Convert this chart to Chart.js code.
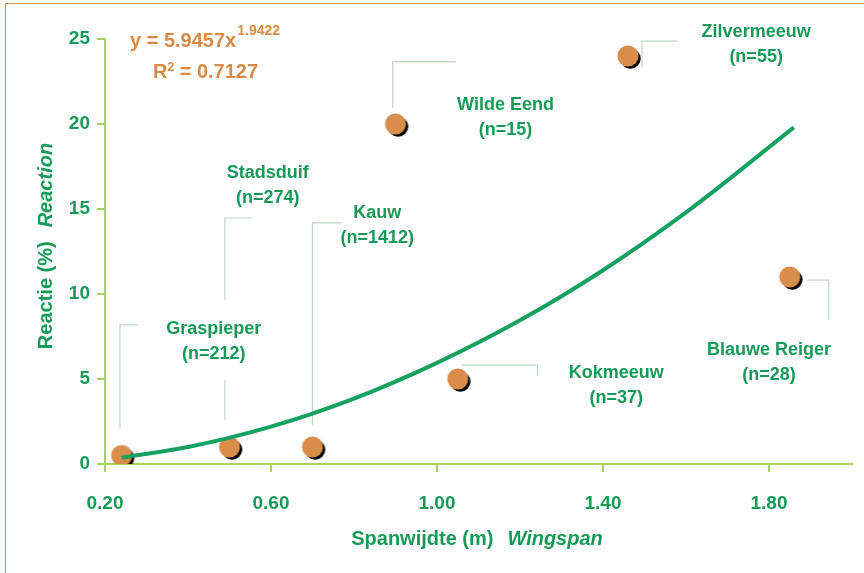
<!DOCTYPE html>
<html>
<head>
<meta charset="utf-8">
<script src="https://cdn.jsdelivr.net/npm/chart.js@4/dist/chart.umd.min.js"></script>
<style>
  body { margin: 0; background: #fff; }
  #wrap { position: relative; width: 864px; height: 573px; overflow: hidden; }
  #frame { position: absolute; left: 5px; top: 3px; width: 900px; height: 600px;
           border-top: 1.5px solid #c4934f; border-left: 1.5px solid #c4934f;
           box-sizing: border-box; pointer-events: none; }
  canvas { position: absolute; left: 0; top: 0; }
</style>
</head>
<body>
<div id="wrap">
  <canvas id="wingChart" width="864" height="573"></canvas>
  <div id="frame"></div>
</div>
<script>
// bird species, sample sizes and measured values
var birds = ['Graspieper', 'Stadsduif', 'Kauw', 'Wilde Eend', 'Kokmeeuw', 'Zilvermeeuw', 'Blauwe Reiger'];
var sample_sizes = [212, 274, 1412, 15, 37, 55, 28];
var wingspan = [0.24, 0.50, 0.70, 0.90, 1.05, 1.46, 1.85];
var reaction = [0.5, 1, 1, 20, 5, 24, 11];

// trend line
var fit_x = [0.24, 0.40, 0.60, 0.80, 1.00, 1.20, 1.40, 1.60, 1.86];
var fit_y = [0.37, 1.0, 2.2, 3.85, 5.95, 8.45, 11.4, 14.8, 19.8];

var x_ticks = [0.2, 0.6, 1.0, 1.4, 1.8];
var y_ticks = [0, 5, 10, 15, 20, 25];

var eq_text = 'y = 5.9457x';
var eq_exp = '1.9422';
var r2_text = '0.7127';

// label anchors and leader lines, in data units (same order as birds)
var callouts = [
  { at: [0.462, 7.94], lines: [[[0.236, 2.06], [0.236, 8.18], [0.279, 8.18]]] },
  { at: [0.592, 17.1], lines: [[[0.489, 2.59], [0.489, 4.94]], [[0.489, 9.65], [0.489, 14.47], [0.556, 14.47]]] },
  { at: [0.856, 14.76], lines: [[[0.700, 2.29], [0.700, 14.18], [0.770, 14.18]]] },
  { at: [1.165, 21.1], lines: [[[0.893, 20.94], [0.893, 23.65], [1.045, 23.65]]] },
  { at: [1.432, 5.35], lines: [[[1.059, 5.82], [1.242, 5.82], [1.242, 5.18]]] },
  { at: [1.769, 25.4], lines: [[[1.494, 23.35], [1.494, 24.88], [1.579, 24.88]]] },
  { at: [1.80, 6.7], lines: [[[1.891, 10.82], [1.944, 10.82], [1.944, 8.47]]] }
];

var GREEN = '#179a58';
var AXIS = '#a9d062';
var ORANGE = '#d98d4b';
var FONT = '"Liberation Sans", Arial, sans-serif';

function make_dot() {
  var c = document.createElement('canvas');
  c.width = 30; c.height = 30;
  var g = c.getContext('2d');
  g.fillStyle = '#000';
  g.beginPath(); g.arc(17.6, 17.6, 10.2, 0, Math.PI * 2); g.fill();
  g.fillStyle = ORANGE;
  g.beginPath(); g.arc(15, 15, 10.5, 0, Math.PI * 2); g.fill();
  return c;
}

var decorations = {
  id: 'decorations',
  beforeDatasetsDraw: function(chart) {
    var ctx = chart.ctx, xs = chart.scales.x, ys = chart.scales.y;
    ctx.save();
    ctx.strokeStyle = '#bcd6c4';
    ctx.lineWidth = 1.2;
    callouts.forEach(function(c) {
      c.lines.forEach(function(seg) {
        ctx.beginPath();
        seg.forEach(function(p, i) {
          var px = xs.getPixelForValue(p[0]), py = ys.getPixelForValue(p[1]);
          if (i == 0) ctx.moveTo(px, py); else ctx.lineTo(px, py);
        });
        ctx.stroke();
      });
    });
    ctx.restore();
  },
  afterDraw: function(chart) {
    var ctx = chart.ctx, xs = chart.scales.x, ys = chart.scales.y;
    ctx.save();
    // species labels
    ctx.fillStyle = GREEN;
    ctx.font = 'bold 18px ' + FONT;
    ctx.textAlign = 'center';
    ctx.textBaseline = 'middle';
    callouts.forEach(function(c, i) {
      var px = xs.getPixelForValue(c.at[0]), py = ys.getPixelForValue(c.at[1]);
      ctx.fillText(birds[i], px, py);
      ctx.fillText('(n=' + sample_sizes[i] + ')', px, py + 25);
    });

    // equation
    ctx.textAlign = 'left';
    ctx.textBaseline = 'alphabetic';
    ctx.fillStyle = '#d98a45';
    ctx.font = 'bold 20px ' + FONT;
    ctx.fillText(eq_text, 130, 47);
    var w = ctx.measureText(eq_text).width;
    ctx.font = 'bold 14px ' + FONT;
    ctx.fillText(eq_exp, 130 + w + 1, 35);
    ctx.font = 'bold 20px ' + FONT;
    ctx.fillText('R', 153, 78);
    var wr = ctx.measureText('R').width;
    ctx.font = 'bold 12px ' + FONT;
    ctx.fillText('2', 153 + wr, 71);
    var w2 = ctx.measureText('2').width;
    ctx.font = 'bold 20px ' + FONT;
    ctx.fillText(' = ' + r2_text, 153 + wr + w2, 78);

    // axis titles
    ctx.fillStyle = GREEN;
    var a1 = 'Spanwijdte (m)', a2 = 'Wingspan', gap = 14;
    ctx.font = 'bold 20px ' + FONT;
    var wa = ctx.measureText(a1).width;
    ctx.font = 'italic bold 20px ' + FONT;
    var wb = ctx.measureText(a2).width;
    var sx = 477 - (wa + gap + wb) / 2;
    ctx.font = 'bold 20px ' + FONT;
    ctx.fillText(a1, sx, 545);
    ctx.font = 'italic bold 20px ' + FONT;
    ctx.fillText(a2, sx + wa + gap, 545);

    var b1 = 'Reactie (%)', b2 = 'Reaction';
    ctx.font = 'bold 20px ' + FONT;
    var wc = ctx.measureText(b1).width;
    ctx.font = 'italic bold 20px ' + FONT;
    var wd = ctx.measureText(b2).width;
    ctx.translate(52, 246);
    ctx.rotate(-Math.PI / 2);
    var sy = -(wc + gap + wd) / 2;
    ctx.font = 'bold 20px ' + FONT;
    ctx.fillText(b1, sy, 0);
    ctx.font = 'italic bold 20px ' + FONT;
    ctx.fillText(b2, sy + wc + gap, 0);
    ctx.restore();
  }
};

function create_chart() {
  var fit_points = [];
  for (let i = 0; i < fit_x.length; i++) fit_points.push({ x: fit_x[i], y: fit_y[i] });
  var bird_points = [];
  for (let i = 0; i < wingspan.length; i++) bird_points.push({ x: wingspan[i], y: reaction[i] });

  var tick_font = { family: FONT, size: 19, weight: 'bold' };
  var config = {
    type: 'scatter',
    data: {
      datasets: [{
        label: 'Trend',
        data: fit_points,
        showLine: true,
        borderColor: '#16a062',
        borderWidth: 4,
        pointRadius: 0,
        cubicInterpolationMode: 'monotone',
        order: 0
      }, {
        label: 'Soorten',
        data: bird_points,
        pointStyle: make_dot(),
        pointRadius: 11,
        order: 1
      }]
    },
    options: {
      responsive: false,
      animation: false,
      devicePixelRatio: 1,
      layout: { padding: { left: 0, top: 39, right: 11, bottom: 0 } },
      plugins: { legend: { display: false }, tooltip: { enabled: false } },
      scales: {
        x: {
          type: 'linear', min: 0.2, max: 2.0,
          afterBuildTicks: function(s) { s.ticks = x_ticks.map(function(v) { return { value: v }; }); },
          afterFit: function(s) { s.height = 109; },
          ticks: { color: GREEN, font: tick_font, padding: 20, callback: function(v) { return v.toFixed(2); } },
          grid: { drawOnChartArea: false, drawTicks: true, tickLength: 8, color: AXIS, lineWidth: 2 },
          border: { color: AXIS, width: 2 }
        },
        y: {
          type: 'linear', min: 0, max: 25,
          afterBuildTicks: function(s) { s.ticks = y_ticks.map(function(v) { return { value: v }; }); },
          afterFit: function(s) { s.width = 105; },
          ticks: { color: GREEN, font: tick_font, padding: 7 },
          grid: { drawOnChartArea: false, drawTicks: true, tickLength: 8, color: AXIS, lineWidth: 2 },
          border: { color: AXIS, width: 2 }
        }
      }
    },
    plugins: [decorations]
  };
  return new Chart(document.getElementById('wingChart'), config);
}

create_chart();
</script>
</body>
</html>
